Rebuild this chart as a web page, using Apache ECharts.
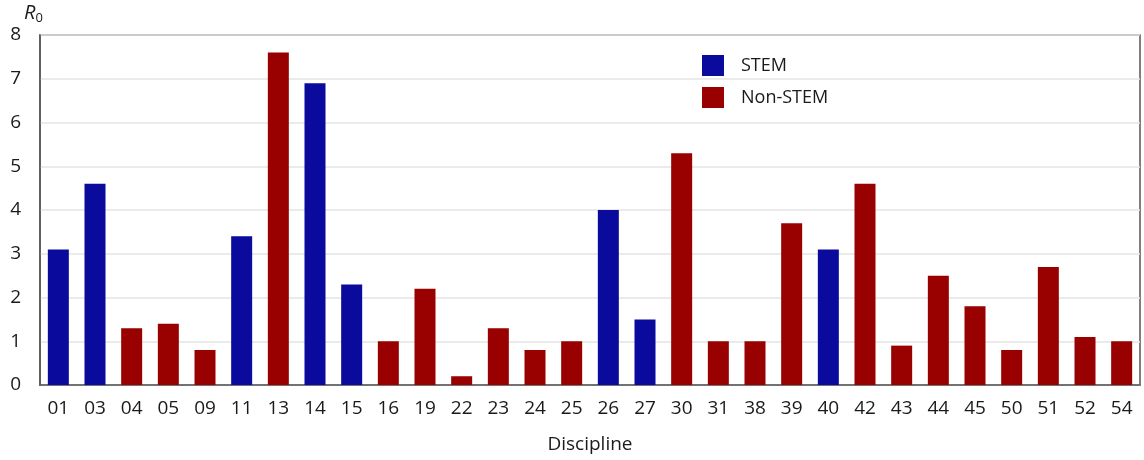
<!DOCTYPE html>
<html><head><meta charset="utf-8">
<script src="https://cdn.jsdelivr.net/npm/echarts@6/dist/echarts.min.js"></script>
<style>html,body{margin:0;padding:0;background:#fff}#c{width:1144px;height:460px}</style>
</head><body><div id="c"></div>
<script>
const categories = ['01','03','04','05','09','11','13','14','15','16','19','22','23','24','25','26','27','30','31','38','39','40','42','43','44','45','50','51','52','54'];
const stem = [3.1,4.6,'-','-','-',3.4,'-',6.9,2.3,'-','-','-','-','-','-',4.0,1.5,'-','-','-','-',3.1,'-','-','-','-','-','-','-','-'];
const nonStem = ['-','-',1.3,1.4,0.8,'-',7.6,'-','-',1.0,2.2,0.2,1.3,0.8,1.0,'-','-',5.3,1.0,1.0,3.7,'-',4.6,0.9,2.5,1.8,0.8,2.7,1.1,1.0];
const yTicks = [0,1,2,3,4,5,6,7,8];

const font = 'Open Sans, Lato, sans-serif';
const chart = echarts.init(document.getElementById('c'));
chart.setOption({
  animation:false,
  backgroundColor:'#fff',
  grid:{left:40,right:4,top:35,bottom:75,show:true,borderColor:'#555',borderWidth:1.5},
  legend:{
    orient:'vertical', left:697, top:50, itemWidth:22, itemHeight:21, itemGap:11, icon:'rect',
    textStyle:{fontFamily:font,fontSize:18,color:'#1a1a1a',padding:[0,0,0,12]},
    data:['STEM','Non-STEM']
  },
  graphic:[{type:'text',left:24,top:3,style:{
    text:'{r|R}{s|0}', rich:{r:{fontFamily:font,fontStyle:'italic',fontSize:20,fill:'#1a1a1a'},s:{fontFamily:font,fontSize:13,fill:'#1a1a1a',padding:[10,0,0,0]}}
  }}],
  xAxis:{type:'category',data:categories,
    axisTick:{show:false},axisLine:{lineStyle:{color:'#555',width:1.5}},
    axisLabel:{fontFamily:font,fontSize:19,color:'#1a1a1a',margin:14,interval:0},
    name:'Discipline',nameLocation:'middle',nameGap:50,
    nameTextStyle:{fontFamily:font,fontSize:19,color:'#1a1a1a'}
  },
  yAxis:{type:'value',min:0,max:8,interval:1,
    axisLine:{show:true,lineStyle:{color:'#555',width:1.5}},axisTick:{show:false},
    axisLabel:{fontFamily:font,fontSize:19,color:'#1a1a1a',margin:19,
      formatter:v=>yTicks.includes(v)?String(v):''},
    splitLine:{lineStyle:{color:'#e4e4e4',width:1.5}}
  },
  series:[
    {name:'STEM',type:'bar',data:stem,barWidth:21,barGap:'-100%',itemStyle:{color:'#0a0a9c'}},
    {name:'Non-STEM',type:'bar',data:nonStem,barWidth:21,barGap:'-100%',itemStyle:{color:'#990000'}}
  ]
});
</script></body></html>
